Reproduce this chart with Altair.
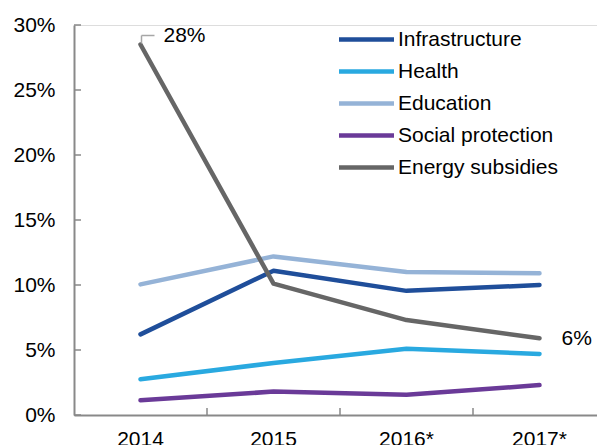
import altair as alt
import pandas as pd

years = ["2014", "2015", "2016*", "2017*"]
series = ["Infrastructure", "Health", "Education", "Social protection", "Energy subsidies"]
colors = ["#1F4E9A", "#29A9E0", "#95B3D7", "#6A3A98", "#666666"]
infrastructure = [6.2, 11.1, 9.55, 10.0]
health = [2.75, 4.0, 5.1, 4.7]
education = [10.05, 12.2, 11.0, 10.9]
social = [1.13, 1.8, 1.55, 2.3]
energy = [28.5, 10.1, 7.3, 5.9]
y_ticks = [0, 5, 10, 15, 20, 25, 30]
annot_years = ["2014", "2017*"]
annot_vals = [28.5, 5.9]
annot_text = ["28%", "6%"]

values = [infrastructure, health, education, social, energy]
rows = []
for s, vals in zip(series, values):
    for yr, v in zip(years, vals):
        rows.append({"year": yr, "series": s, "value": v / 100})
df = pd.DataFrame(rows)

FONT = "Liberation Sans"
W, H = 523, 390
XR = 532

xscale = alt.Scale(type="band", domain=years, paddingInner=0, paddingOuter=0, range=[0, XR])
yscale = alt.Scale(domain=[0, 0.30], nice=False)

lines = alt.Chart(df).mark_line(strokeWidth=4.5, strokeCap="round", strokeJoin="round").encode(
    x=alt.X("year:N", scale=xscale, sort=years,
            axis=alt.Axis(title=None, ticks=False, labelFontSize=21, labelFont=FONT,
                          labelColor="#000000", labelPadding=13, domainColor="#898989",
                          domainWidth=2, labelAngle=0)),
    y=alt.Y("value:Q", scale=yscale,
            axis=alt.Axis(title=None, values=[t / 100 for t in y_ticks], format=".0%",
                          ticks=False, grid=False, labelFontSize=21, labelFont=FONT,
                          labelColor="#000000", labelPadding=19, domainColor="#898989",
                          domainWidth=2)),
    color=alt.Color("series:N", scale=alt.Scale(domain=series, range=colors),
                    legend=alt.Legend(title=None, orient="none", legendX=279, legendY=1,
                                      symbolType="M-2.5,0H2.5", symbolSize=484,
                                      symbolStrokeWidth=4.5, symbolFillColor="transparent",
                                      labelFontSize=21,
                                      labelFont=FONT, labelColor="#000000",
                                      labelOffset=18, rowPadding=8)),
    detail="series:N",
)

ytick_df = pd.DataFrame({"v": [t / 100 for t in y_ticks]})
yticks = alt.Chart(ytick_df).mark_rule(color="#898989", strokeWidth=1.5).encode(
    y=alt.Y("v:Q", scale=yscale), x=alt.value(0), x2=alt.value(7))

xtick_df = pd.DataFrame({"year": years[1:]})
xticks = alt.Chart(xtick_df).mark_rule(color="#898989", strokeWidth=1.5).encode(
    x=alt.X("year:N", scale=xscale, bandPosition=0), y=alt.value(H), y2=alt.value(H - 7))

ann_df = pd.DataFrame({"year": annot_years, "v": [a / 100 for a in annot_vals], "t": annot_text})
text_top = alt.Chart(ann_df).transform_filter(alt.datum.t == "28%").mark_text(
    align="left", baseline="middle", dx=23, dy=-9, fontSize=21, font=FONT, color="#000000"
).encode(x=alt.X("year:N", scale=xscale), y=alt.Y("v:Q", scale=yscale), text="t:N")
text_end = alt.Chart(ann_df).transform_filter(alt.datum.t == "6%").mark_text(
    align="left", baseline="middle", dx=22, dy=1, fontSize=21, font=FONT, color="#000000"
).encode(x=alt.X("year:N", scale=xscale), y=alt.Y("v:Q", scale=yscale), text="t:N")

lead_df = ann_df.iloc[:1]
lead_v = alt.Chart(lead_df).mark_rule(color="#A6A6A6", strokeWidth=1.5, yOffset=-1, y2Offset=-9,
                                      xOffset=1).encode(
    x=alt.X("year:N", scale=xscale), y=alt.Y("v:Q", scale=yscale), y2="v:Q")
lead_h = alt.Chart(lead_df).mark_rule(color="#A6A6A6", strokeWidth=1.5, xOffset=1, x2Offset=14,
                                      yOffset=-9, y2Offset=-9).encode(
    x=alt.X("year:N", scale=xscale), x2="year:N", y=alt.Y("v:Q", scale=yscale))

chart = alt.layer(lines, yticks, xticks, lead_v, lead_h, text_top, text_end).properties(
    width=W, height=H,
    autosize=alt.AutoSizeParams(type="none"),
    padding={"left": 66, "top": 17, "right": 0, "bottom": 30},
).configure_view(stroke=None).configure(background="#ffffff")

chart.save("out.html", embed_options={"renderer": "svg", "actions": False})
